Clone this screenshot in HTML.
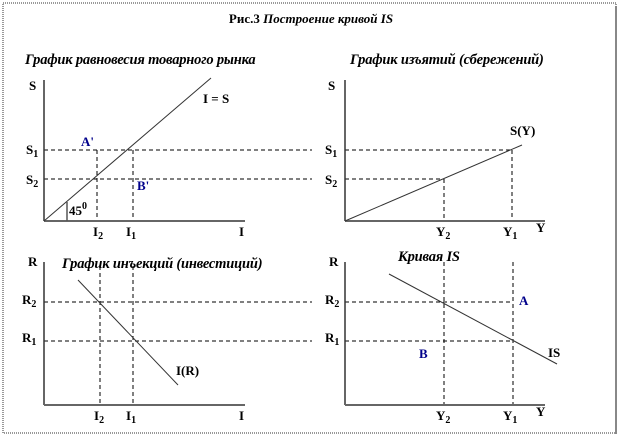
<!DOCTYPE html>
<html><head><meta charset="utf-8">
<style>
html,body{margin:0;padding:0;background:#fff;}
svg{display:block;font-family:"Liberation Serif","DejaVu Serif",serif;}
.t{font-weight:bold;font-size:13px;fill:#000;}
.it{font-weight:bold;font-style:italic;font-size:14.5px;fill:#000;letter-spacing:-0.2px;}
.b{font-weight:bold;font-size:13px;fill:#00008b;}
</style></head><body>
<svg id="c" width="622" height="439" viewBox="0 0 622 439">
<rect x="3" y="3" width="613" height="430" fill="none" stroke="#333" stroke-dasharray="1,1"/>
<line x1="616" y1="6" x2="616" y2="434" stroke="#888" stroke-width="2"/>
<text x="311" y="23" text-anchor="middle" class="t" font-size="14.5">Рис.3 <tspan font-style="italic">Построение кривой IS</tspan></text>
<text x="25" y="64" class="it">График равновесия товарного рынка</text>
<text x="350" y="64" class="it">График изъятий (сбережений)</text>
<text x="62" y="268" class="it">График инъекций (инвестиций)</text>
<text x="398" y="261" class="it">Кривая IS</text>
<g id="g"></g>
</svg>
<script>
const sLevels=[150,179];      // S1,S2
const iLevels=[133,97];       // I1,I2
const yLevels=[512,444];      // Y1,Y2
const rLevels=[341,302];      // R1,R2
const isLine=[[389,274],[557,364]];
const irLine=[[78,280],[178,385]];
const syLine=[[345,221],[522,145]];
const ieqLine=[[44,221],[211,78]];
const g=document.getElementById('g');
const NS='http://www.w3.org/2000/svg';
function ln(x1,y1,x2,y2,name,dash,col,w){
 const l=document.createElementNS(NS,'line');
 l.setAttribute('x1',x1);l.setAttribute('y1',y1);l.setAttribute('x2',x2);l.setAttribute('y2',y2);
 l.setAttribute('stroke',col||'#000');l.setAttribute('stroke-width',w||1);
 if(dash)l.setAttribute('stroke-dasharray','4,3');
 
 
 g.appendChild(l);}
function tx(x,y,s,name,cls,sub,sup){
 const t=document.createElementNS(NS,'text');
 t.setAttribute('x',x);t.setAttribute('y',y);t.setAttribute('class',cls||'t');
 t.textContent=s;
 if(sub){const ts=document.createElementNS(NS,'tspan');ts.setAttribute('font-size','10');ts.setAttribute('dy',sup?'-6':'3');ts.textContent=sub;t.appendChild(ts);}
 
 
 g.appendChild(t);}
function hd(y,xe,name){ln(44,y,312,y,name+'-left',1);ln(345,y,xe,y,name+'-right',1);}
hd(sLevels[0],yLevels[0],'s1-guide');
hd(sLevels[1],yLevels[1],'s2-guide');
ln(iLevels[0],sLevels[0],iLevels[0],221,'i1-guide-top',1);
ln(iLevels[1],sLevels[0],iLevels[1],221,'i2-guide-top',1);
ln(yLevels[0],sLevels[0],yLevels[0],221,'y1-guide-top',1);
ln(yLevels[1],sLevels[1],yLevels[1],221,'y2-guide-top',1);
hd(rLevels[1],yLevels[0],'r2-guide');
hd(rLevels[0],yLevels[0],'r1-guide');
ln(iLevels[0],266,iLevels[0],405,'i1-guide-bottom',1);
ln(iLevels[1]+3,266,iLevels[1]+3,405,'i2-guide-bottom',1);
ln(yLevels[0]+1,262,yLevels[0]+1,405,'y1-guide-bottom',1);
ln(yLevels[1],262,yLevels[1],405,'y2-guide-bottom',1);
[[44,80,221,245],[345,80,221,545],[44,262,405,245],[345,262,405,545]].forEach((a,i)=>{
 ln(a[0],a[1],a[0],a[2],'y-axis-'+(i+1),0,'#333',1.5);
 ln(a[0],a[2],a[3],a[2],'x-axis-'+(i+1),0,'#666',2);});
ln(ieqLine[0][0],ieqLine[0][1],ieqLine[1][0],ieqLine[1][1],'i-equals-s-line',0,'#333');
ln(syLine[0][0],syLine[0][1],syLine[1][0],syLine[1][1],'savings-line',0,'#333');
ln(irLine[0][0],irLine[0][1],irLine[1][0],irLine[1][1],'investment-line',0,'#333');
ln(isLine[0][0],isLine[0][1],isLine[1][0],isLine[1][1],'is-curve',0,'#333');
ln(67,202,67,221,'angle-mark',0,'#555',1.5);
tx(29,90,'S','p1-y-label');tx(328,90,'S','p2-y-label');
tx(28,266,'R','p3-y-label');tx(329,266,'R','p4-y-label');
tx(203,103,'I = S','i-equals-s-label');tx(510,135,'S(Y)','savings-label');
tx(176,375,'I(R)','investment-label');tx(548,357,'IS','is-label');
tx(69,215,'45','angle-label','t','0',1);
tx(26,154,'S','s1-label-1','t','1');tx(26,184,'S','s2-label-1','t','2');
tx(325,154,'S','s1-label-2','t','1');tx(325,184,'S','s2-label-2','t','2');
tx(22,304,'R','r2-label-1','t','2');tx(22,342,'R','r1-label-1','t','1');
tx(325,304,'R','r2-label-2','t','2');tx(325,342,'R','r1-label-2','t','1');
tx(93,236,'I','i2-label-1','t','2');tx(126,236,'I','i1-label-1','t','1');tx(239,236,'I','i-axis-label-1');
tx(94,420,'I','i2-label-2','t','2');tx(126,420,'I','i1-label-2','t','1');tx(239,420,'I','i-axis-label-2');
tx(436,236,'Y','y2-label-1','t','2');tx(503,236,'Y','y1-label-1','t','1');tx(536,232,'Y','y-axis-label-1');
tx(436,420,'Y','y2-label-2','t','2');tx(503,420,'Y','y1-label-2','t','1');tx(536,416,'Y','y-axis-label-2');
tx(81,146,"A'",'point-a-prime','b');tx(137,190,"B'",'point-b-prime','b');
tx(519,305,'A','point-a','b');tx(419,358,'B','point-b','b');
</script>
</body></html>
